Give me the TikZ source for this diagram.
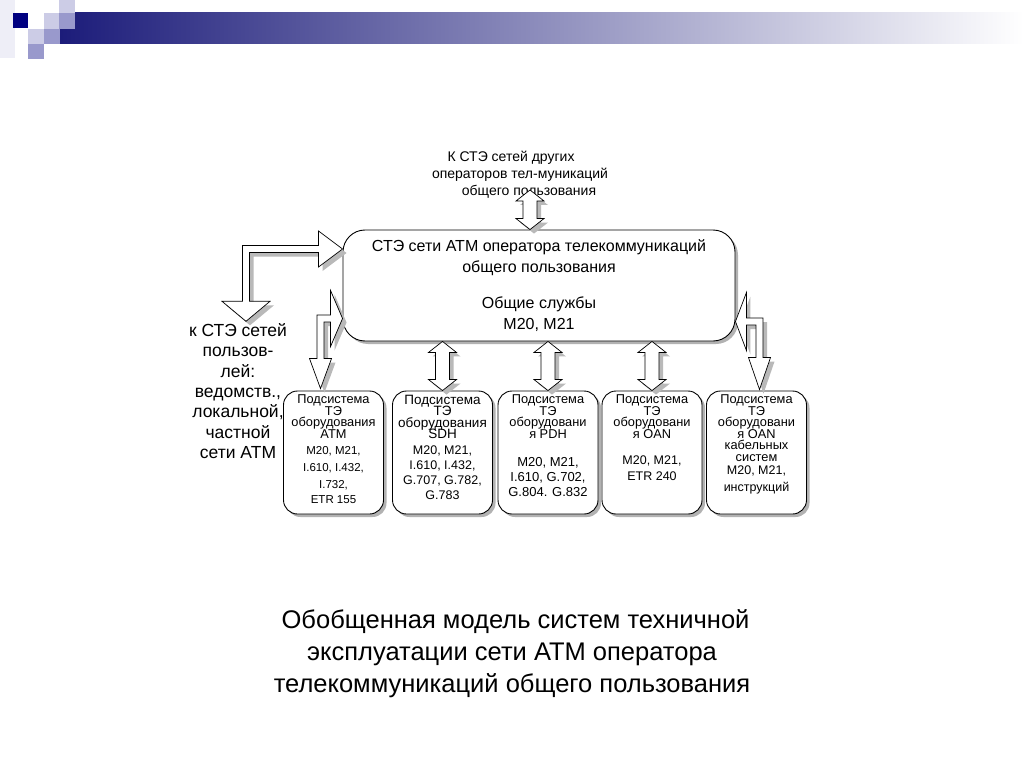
\documentclass[tikz,border=0pt]{standalone}
\usepackage{fontspec}
\setmainfont{Liberation Sans}
\usetikzlibrary{positioning, calc, shadows}

\definecolor{slidenavy}{RGB}{0,0,128}
\definecolor{barnavy}{RGB}{28,28,122}
\definecolor{lavlight}{RGB}{204,204,230}
\definecolor{lavmid}{RGB}{153,153,204}
\definecolor{lavpale}{RGB}{238,238,247}

\tikzset{
  boxshadow/.style={drop shadow={shadow xshift=3pt, shadow yshift=-3pt, fill=gray!60, opacity=1}},
  mainbox/.style={draw, line width=0.9pt, rounded corners=22pt, fill=white, align=center,
    minimum width=392pt, minimum height=111pt, inner sep=0pt,
    font=\fontsize{16}{20.5}\selectfont, boxshadow},
  subbox/.style={draw, line width=0.9pt, rounded corners=14pt, fill=white, inner sep=2pt,
    minimum width=100pt, minimum height=123pt, boxshadow},
  arrowbody/.style={draw, line width=0.7pt, fill=white,
    drop shadow={shadow xshift=4pt, shadow yshift=-4pt, fill=gray!55, opacity=1}},
  note/.style={align=center, inner sep=0pt},
}

% text of a subsystem box, kept at the top
\newcommand{\subtext}[1]{\parbox[t][115pt][t]{96pt}{\lineskiplimit=-50pt\centering #1}}
\newcommand{\subhead}[1][12.8]{\fontsize{#1}{11.5}\selectfont}
\newcommand{\subbody}[1][12.5]{\fontsize{#1}{11.5}\selectfont}

% vertical two-way arrow from #1 (top) to #2 (bottom)
\newcommand{\twoway}[2]{%
  \draw[arrowbody] let \p1=(#1), \p2=(#2) in
    (\x1,\y1) -- (\x1+14pt,\y1-11pt) -- (\x1+7pt,\y1-11pt) -- (\x1+7pt,\y2+11pt)
    -- (\x1+14pt,\y2+11pt) -- (\x1,\y2) -- (\x1-14pt,\y2+11pt) -- (\x1-7pt,\y2+11pt)
    -- (\x1-7pt,\y1-11pt) -- (\x1-14pt,\y1-11pt) -- cycle;
}

% bent arrow: #1 side (1 right, -1 left), #2 side tip, #3 lower tip,
% #4/#5 side head length/half width, #6/#7 lower head length/half width
\newcommand{\bentarrow}[7]{%
  \draw[arrowbody] let \p1=(#2), \p2=(#3), \n1={#1} in
    (\x1,\y1) -- ({\x1-\n1*#4pt},{\y1-#5pt}) -- ({\x1-\n1*#4pt},{\y1-3.5pt})
    -- ({\x2+\n1*3.5pt},{\y1-3.5pt}) -- ({\x2+\n1*3.5pt},{\y2+#6pt})
    -- ({\x2+\n1*#7pt},{\y2+#6pt}) -- (\x2,\y2) -- ({\x2-\n1*#7pt},{\y2+#6pt})
    -- ({\x2-\n1*3.5pt},{\y2+#6pt}) -- ({\x2-\n1*3.5pt},{\y1+3.5pt})
    -- ({\x1-\n1*#4pt},{\y1+3.5pt}) -- ({\x1-\n1*#4pt},{\y1+#5pt}) -- cycle;
}

\begin{document}
\begin{tikzpicture}[x=1pt, y=-1pt]
  \useasboundingbox (0,0) rectangle (1024,767);

  % slide header
  \fill[lavpale] (0,0) rectangle (15,58);
  \shade[left color=barnavy, right color=white] (60,13) rectangle (1024,44);
  \fill[slidenavy] (13,13) rectangle (28,28);
  \fill[lavlight] (44,13) rectangle (60,29);
  \fill[lavlight] (59,0) rectangle (75,14);
  \fill[lavmid] (59,13) rectangle (75,29);
  \fill[lavlight] (28,29) rectangle (44,44);
  \fill[lavmid] (44,29) rectangle (60,44);
  \fill[lavmid] (28,44) rectangle (44,59);

  % central system
  \node[mainbox] (main) at (539,285.5) {СТЭ сети АТМ оператора телекоммуникаций\\общего пользования\\[16pt]Общие службы\\М20, М21};

  \node[note, font=\fontsize{14}{17}\selectfont] (ext) at (520,175) {К СТЭ сетей других\hspace*{18pt}\\операторов тел-муникаций\\\hspace*{18pt}общего пользования};
  \coordinate (extport) at (530,190);

  \node[note, font=\fontsize{17.5}{20.3}\selectfont] (users) at (238,391) {к СТЭ сетей\\пользов-\\лей:\\ведомств.,\\локальной,\\частной\\сети АТМ};

  % subsystems
  \node[subbox] (sub1) at (333.5,452.5) {\subtext{\subhead Подсистема\\ТЭ\\оборудования\\АТМ\\[4.5pt]\subbody[11.5]М20, М21,\\[5.5pt]I.610, I.432,\\[5.5pt]I.732,\\[3.5pt]ETR 155}};
  \node[subbox] (sub2) at (442.5,452.5) {\subtext{\subhead[13.5] Подсистема\\ТЭ\\оборудования\\SDH\\[4.5pt]\subbody М20, М21,\\[3.5pt]I.610, I.432,\\[3.5pt]G.707, G.782,\\[3.5pt]G.783}};
  \node[subbox] (sub3) at (548,452.5) {\subtext{\subhead Подсистема\\ТЭ\\оборудовани\\я PDH\\[16.5pt]\subbody[13] М20, М21,\\[3.5pt]I.610, G.702,\\[3.5pt]G.804. G.832}};
  \node[subbox] (sub4) at (652,452.5) {\subtext{\subhead Подсистема\\ТЭ\\оборудовани\\я OAN\\[14.5pt]\subbody М20, М21,\\[4.5pt]ETR 240}};
  \node[subbox] (sub5) at (756.5,452.5) {\subtext{\subhead Подсистема\\ТЭ\\оборудовани\\я OAN\\кабельных\\систем\\[1.5pt]\subbody М20, М21,\\[5.5pt]инструкций}};

  % connectors
  \twoway{extport}{main.north -| extport}
  \twoway{main.south -| sub2.north}{sub2.north}
  \twoway{main.south -| sub3.north}{sub3.north}
  \twoway{main.south -| sub4.north}{sub4.north}
  \bentarrow{1}{$(main.west)+(0,-36.5)$}{$(users.north)+(8,-2)$}{24}{18}{20}{24}
  \bentarrow{1}{$(main.west)+(0,33)$}{$(sub1.north)+(-13,-2)$}{12}{28}{30}{11}
  \bentarrow{-1}{$(main.east)+(0,36)$}{$(sub5.north)+(3,-1)$}{11}{29}{32}{11}

  % caption
  \node[note, font=\fontsize{25.5}{32}\selectfont] (caption) at (512,654) {\ Обобщенная модель систем техничной\\эксплуатации сети АТМ оператора\\телекоммуникаций общего пользования};
\end{tikzpicture}
\end{document}
